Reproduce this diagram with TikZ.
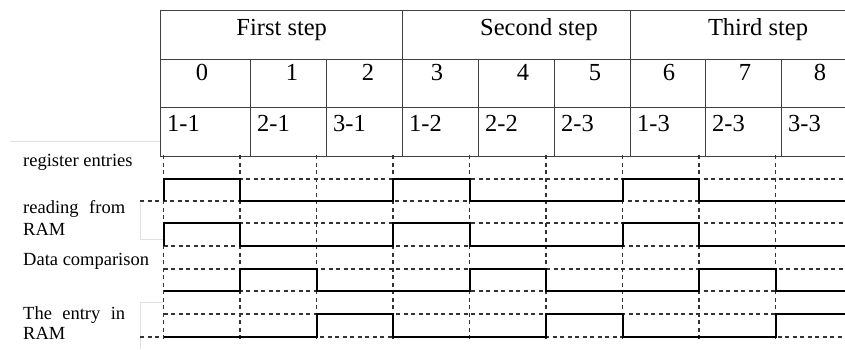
\documentclass[tikz,border=0pt]{standalone}
\usepackage{fontspec}
\setmainfont{Liberation Serif}
\begin{document}
\begin{tikzpicture}[x=1pt,y=-1pt,
    grid/.style={draw=black!75,line width=0.9pt},
    big/.style={font=\fontsize{24.5}{28}\selectfont,inner sep=0pt},
    lab/.style={font=\fontsize{18.5}{22}\selectfont,inner sep=0pt,anchor=base west},
    sig/.style={line width=2pt,line join=miter},
    tick/.style={dash pattern=on 4pt off 3.5pt,line width=1.2pt,black!80},
    faint/.style={draw=black!12,line width=0.8pt}]
    \useasboundingbox (0,0) rectangle (845,349);
    % table
    \draw[grid] (160,10) -- (845,10);
    \draw[grid] (160,59) -- (845,59);
    \draw[grid] (160,107) -- (845,107);
    \draw[grid] (160,156) -- (845,156);
    \draw[grid] (160,10) -- (160,156);
    \draw[grid] (402,10) -- (402,156);
    \draw[grid] (630,10) -- (630,156);
    \draw[grid] (250,59) -- (250,156);
    \draw[grid] (326,59) -- (326,156);
    \draw[grid] (478,59) -- (478,156);
    \draw[grid] (554,59) -- (554,156);
    \draw[grid] (705,59) -- (705,156);
    \draw[grid] (781,59) -- (781,156);
    \node[big,anchor=base] (first) at (281.7,35) {First step};
    \node[big,anchor=base] (second) at (539,35) {Second step};
    \node[big,anchor=base] (third) at (758,35) {Third step};
    \node[big,anchor=base] (c0) at (202,80) {0};
    \node[big,anchor=base] (c1) at (292,80) {1};
    \node[big,anchor=base] (c2) at (368,80) {2};
    \node[big,anchor=base] (c3) at (437,80) {3};
    \node[big,anchor=base] (c4) at (523,80) {4};
    \node[big,anchor=base] (c5) at (595,80) {5};
    \node[big,anchor=base] (c6) at (669,80) {6};
    \node[big,anchor=base] (c7) at (745,80) {7};
    \node[big,anchor=base] (c8) at (820,80) {8};
    \node[big,anchor=base west] (e0) at (167,131) {1-1};
    \node[big,anchor=base west] (e1) at (257,131) {2-1};
    \node[big,anchor=base west] (e2) at (333,131) {3-1};
    \node[big,anchor=base west] (e3) at (409,131) {1-2};
    \node[big,anchor=base west] (e4) at (485,131) {2-2};
    \node[big,anchor=base west] (e5) at (561,131) {2-3};
    \node[big,anchor=base west] (e6) at (637,131) {1-3};
    \node[big,anchor=base west] (e7) at (712,131) {2-3};
    \node[big,anchor=base west] (e8) at (788,131) {3-3};
    % signal names
    \draw[faint] (10,141) -- (160,141);
    \draw[faint] (140,203) -- (140,239) -- (163,239);
    \draw[faint] (163,302) -- (140,302) -- (140,349);
    \node[lab] (reg) at (23,166) {register entries};
    \node[lab] (read) at (23,213) {\makebox[102pt][s]{reading from}};
    \node[lab] (readram) at (23,235) {RAM};
    \node[lab] (cmp) at (23,265) {Data comparison};
    \node[lab] (entry) at (23,319) {\makebox[102pt][s]{The entry in}};
    \node[lab] (entryram) at (23,339) {RAM};
    % clock marks
    \draw[tick] (163.5,155) -- (163.5,341);
    \draw[tick] (240,155) -- (240,341);
    \draw[tick] (316.5,155) -- (316.5,341);
    \draw[tick] (393,155) -- (393,341);
    \draw[tick] (469.5,155) -- (469.5,341);
    \draw[tick] (546,155) -- (546,341);
    \draw[tick] (622.5,155) -- (622.5,341);
    \draw[tick] (699,155) -- (699,341);
    \draw[tick] (775.5,155) -- (775.5,341);
    % levels
    \draw[tick] (140,201) -- (845,201);
    \draw[tick] (163.5,179) -- (845,179);
    \draw[tick] (163.5,223) -- (845,223);
    \draw[tick] (163.5,246) -- (845,246);
    \draw[tick] (163.5,269) -- (845,269);
    \draw[tick] (163.5,291) -- (845,291);
    \draw[tick] (163.5,314) -- (845,314);
    \draw[tick] (140,337) -- (845,337);
    % signals
    \draw[sig] (163.5,201) -- (163.5,179) -- (240,179) -- (240,201) -- (393,201) -- (393,179)
        -- (469.5,179) -- (469.5,201) -- (622.5,201) -- (622.5,179) -- (699,179) -- (699,201) -- (845,201);
    \draw[sig] (163.5,246) -- (163.5,223) -- (240,223) -- (240,246) -- (393,246) -- (393,223)
        -- (469.5,223) -- (469.5,246) -- (622.5,246) -- (622.5,223) -- (699,223) -- (699,246) -- (845,246);
    \draw[sig] (163.5,291) -- (240,291) -- (240,269) -- (316.5,269) -- (316.5,291) -- (469.5,291)
        -- (469.5,269) -- (546,269) -- (546,291) -- (699,291) -- (699,269) -- (775.5,269) -- (775.5,291) -- (845,291);
    \draw[sig] (163.5,337) -- (316.5,337) -- (316.5,314) -- (393,314) -- (393,337) -- (546,337)
        -- (546,314) -- (622.5,314) -- (622.5,337) -- (775.5,337) -- (775.5,314) -- (845,314);
\end{tikzpicture}
\end{document}
